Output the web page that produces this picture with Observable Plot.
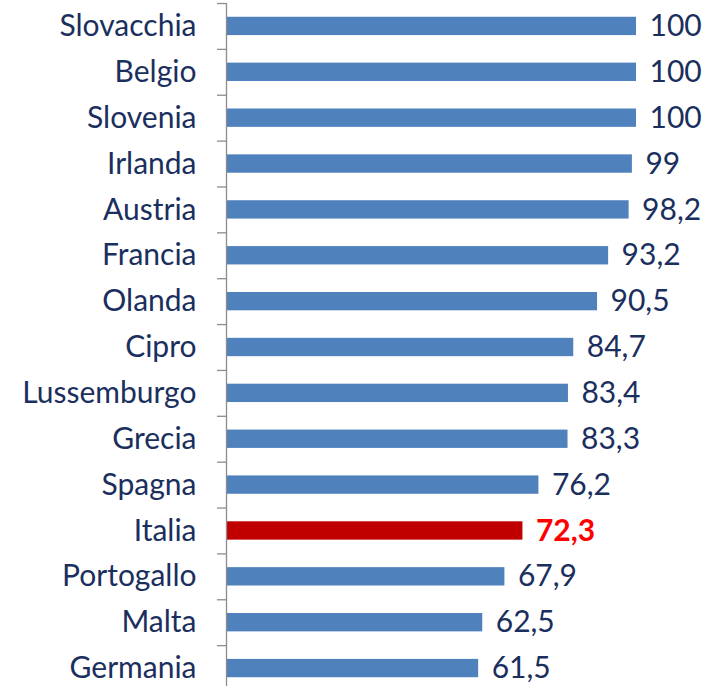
<!DOCTYPE html>
<html>
<head>
<meta charset="utf-8">
<script src="https://cdn.jsdelivr.net/npm/d3@7"></script>
<script src="https://cdn.jsdelivr.net/npm/@observablehq/plot@0.6"></script>
<style>
  html, body { margin: 0; padding: 0; background: #fff; }
  #chart svg { display: block; }
</style>
</head>
<body>
<div id="chart"></div>
<script>
const countries = ["Slovacchia","Belgio","Slovenia","Irlanda","Austria","Francia","Olanda","Cipro","Lussemburgo","Grecia","Spagna","Italia","Portogallo","Malta","Germania"];
const values = [100,100,100,99,98.2,93.2,90.5,84.7,83.4,83.3,76.2,72.3,67.9,62.5,61.5];
const highlight = "Italia";

const data = countries.map((c, i) => ({country: c, value: values[i]}));
const others = data.filter(d => d.country !== highlight);
const hi = data.filter(d => d.country === highlight);
const fmt = v => String(v).replace(".", ",");
const navy = "#1b2f5e";

const chart = Plot.plot({
  width: 707,
  height: 686,
  marginLeft: 226,
  marginRight: 0,
  marginTop: 3,
  marginBottom: 0,
  style: {fontFamily: "Lato, sans-serif", background: "#fff"},
  x: {domain: [0, 100], range: [226, 636], axis: null},
  y: {domain: countries, range: [3, 691], paddingInner: 0.6, paddingOuter: 0.3, round: false, label: null},
  marks: [
    Plot.barX(data, {
      y: "country", x: "value", x1: 0.25,
      fill: d => d.country === highlight ? "#c00000" : "#4f81bd"
    }),
    Plot.ruleY(countries, {y: d => d, x1: -2.2, x2: 0, dy: -22.93, stroke: "#8c8c8c", strokeWidth: 1.3}),
    Plot.ruleX([0], {stroke: "#8c8c8c", strokeWidth: 1.3}),
    Plot.axisY({tickSize: 0, tickPadding: 30, fontSize: 30, fill: navy, stroke: "none"}),
    Plot.text(others, {
      y: "country", x: "value", text: d => fmt(d.value),
      textAnchor: "start", dx: 13, fontSize: 30, fill: navy
    }),
    Plot.text(hi, {
      y: "country", x: "value", text: d => fmt(d.value),
      textAnchor: "start", dx: 13, fontSize: 30, fill: "#ff0000", fontWeight: "bold"
    })
  ]
});
document.getElementById("chart").appendChild(chart);
</script>
</body>
</html>
